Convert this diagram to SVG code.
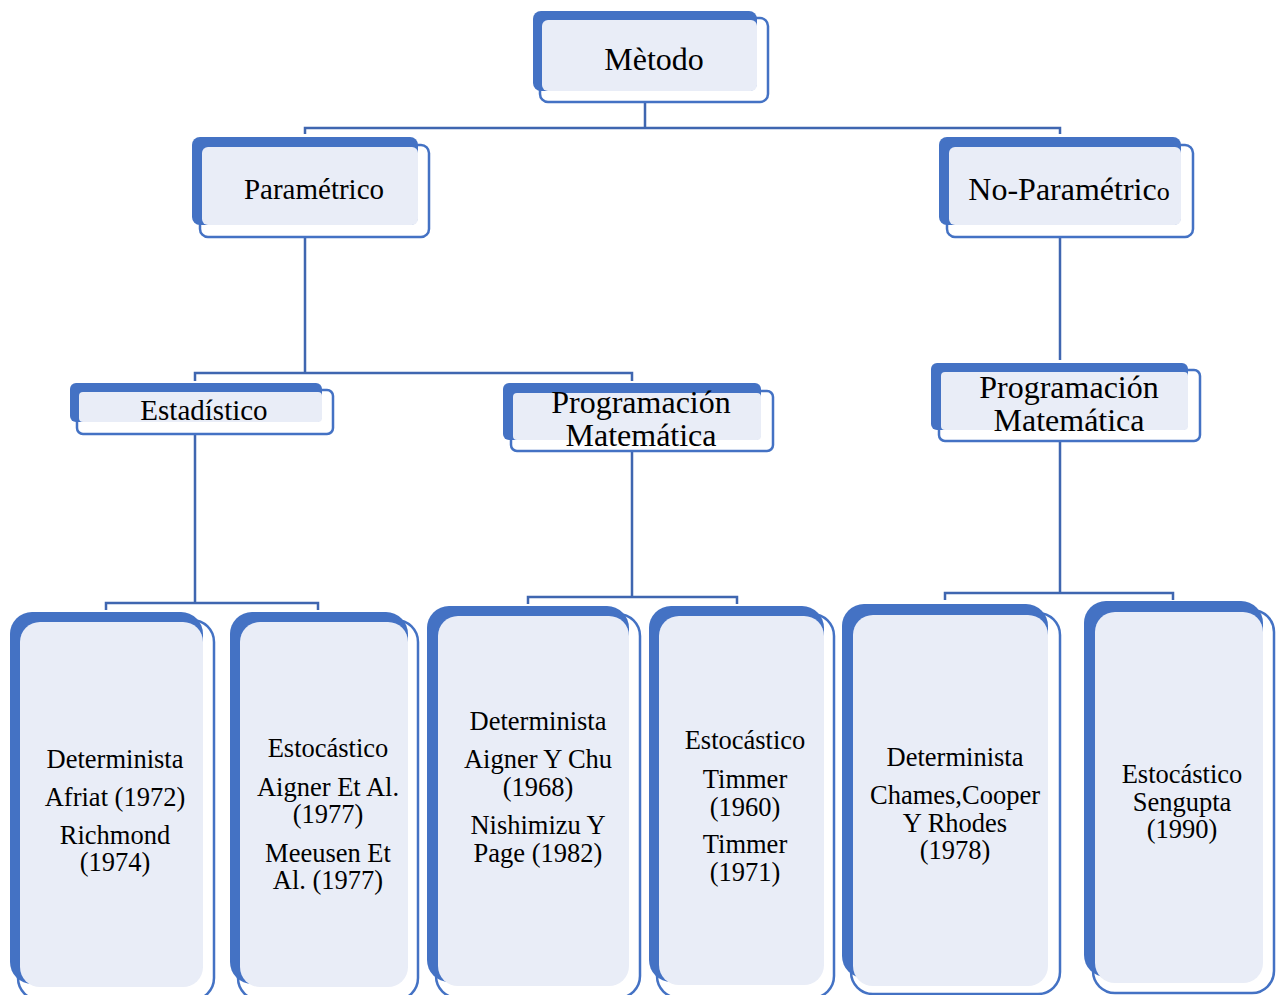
<svg xmlns="http://www.w3.org/2000/svg" width="1278" height="995" viewBox="0 0 1278 995">
<style>
.back{fill:#4472C4}
.out{fill:#ffffff;stroke:#4472C4;stroke-width:2.5}
.lt{fill:#E9EDF7}
.conn{fill:none;stroke:#3F66B0;stroke-width:2.5}
text{fill:#000;text-anchor:middle}
.t32{font-size:32px}
.t29{font-size:29px}
.t26{font-size:26.5px}
</style>
<rect width="1278" height="995" fill="#ffffff"/>
<g id="connectors">
<path class="conn" d="M645 102 V128 M305 134 V128 H1060 V134"/>
<path class="conn" d="M305 237 V373 M195 381 V373 H632 V381"/>
<path class="conn" d="M1060 237 V360"/>
<path class="conn" d="M195 434 V603 M106 610 V603 H318 V610"/>
<path class="conn" d="M632 451 V597 M528 604 V597 H737 V604"/>
<path class="conn" d="M1060 441 V593 M945 600 V593 H1173 V600"/>
</g>
<g font-family="'Liberation Serif', serif">
<g id="metodo">
<rect class="out" x="540" y="18" width="228" height="84" rx="8"/>
<rect class="back" x="533" y="11" width="224" height="80" rx="8"/>
<rect class="lt" x="542" y="20" width="215" height="71" rx="6"/>
<text class="t32" x="654" y="70">Mètodo</text>
</g>
<g id="parametrico">
<rect class="out" x="200" y="145" width="229" height="92" rx="8"/>
<rect class="back" x="192" y="137" width="226" height="88" rx="8"/>
<rect class="lt" x="202" y="147" width="216" height="78" rx="6"/>
<text class="t29" x="314" y="199">Paramétrico</text>
</g>
<g id="noparametrico">
<rect class="out" x="947" y="145" width="246" height="92" rx="8"/>
<rect class="back" x="939" y="137" width="242" height="88" rx="8"/>
<rect class="lt" x="949" y="147" width="232" height="78" rx="6"/>
<text class="t32" x="1069" y="200">No-Paramétric<tspan font-size="26px">o</tspan></text>
</g>
<g id="estadistico">
<rect class="out" x="77" y="390" width="256" height="44" rx="6"/>
<rect class="back" x="70" y="383" width="252" height="39" rx="6"/>
<rect class="lt" x="79" y="392" width="243" height="30" rx="4"/>
<text class="t29" x="204" y="420">Estadístico</text>
</g>
<g id="progmat1">
<rect class="out" x="511" y="391" width="262" height="60" rx="6"/>
<rect class="back" x="503" y="383" width="258" height="57" rx="6"/>
<rect class="lt" x="513" y="393" width="248" height="47" rx="4"/>
<text class="t32" x="641" y="413">Programación</text>
<text class="t32" x="641" y="446">Matemática</text>
</g>
<g id="progmat2">
<rect class="out" x="939" y="370" width="261" height="71" rx="6"/>
<rect class="back" x="931" y="363" width="257" height="67" rx="6"/>
<rect class="lt" x="941" y="372" width="247" height="58" rx="4"/>
<text class="t32" x="1069" y="398">Programación</text>
<text class="t32" x="1069" y="431">Matemática</text>
</g>
<g id="box1">
<rect class="out" x="18" y="620" width="196" height="380" rx="22"/>
<rect class="back" x="10" y="612" width="193" height="372" rx="22"/>
<rect class="lt" x="20" y="622" width="183" height="365" rx="20"/>
<text class="t26" x="115" y="768">Determinista</text>
<text class="t26" x="115" y="806">Afriat (1972)</text>
<text class="t26" x="115" y="844">Richmond</text>
<text class="t26" x="115" y="871">(1974)</text>
</g>
<g id="box2">
<rect class="out" x="238" y="620" width="180" height="380" rx="22"/>
<rect class="back" x="230" y="612" width="178" height="372" rx="22"/>
<rect class="lt" x="240" y="622" width="168" height="365" rx="20"/>
<text class="t26" x="328" y="757">Estocástico</text>
<text class="t26" x="328" y="796">Aigner Et Al.</text>
<text class="t26" x="328" y="823">(1977)</text>
<text class="t26" x="328" y="862">Meeusen Et</text>
<text class="t26" x="328" y="889">Al. (1977)</text>
</g>
<g id="box3">
<rect class="out" x="436" y="614" width="204" height="384" rx="22"/>
<rect class="back" x="427" y="606" width="202" height="376" rx="22"/>
<rect class="lt" x="438" y="616" width="191" height="370" rx="20"/>
<text class="t26" x="538" y="730">Determinista</text>
<text class="t26" x="538" y="768">Aigner Y Chu</text>
<text class="t26" x="538" y="796">(1968)</text>
<text class="t26" x="538" y="834">Nishimizu Y</text>
<text class="t26" x="538" y="862">Page (1982)</text>
</g>
<g id="box4">
<rect class="out" x="657" y="614" width="177" height="384" rx="22"/>
<rect class="back" x="649" y="606" width="175" height="376" rx="22"/>
<rect class="lt" x="659" y="616" width="165" height="369" rx="20"/>
<text class="t26" x="745" y="749">Estocástico</text>
<text class="t26" x="745" y="788">Timmer</text>
<text class="t26" x="745" y="816">(1960)</text>
<text class="t26" x="745" y="853">Timmer</text>
<text class="t26" x="745" y="881">(1971)</text>
</g>
<g id="box5">
<rect class="out" x="851" y="613" width="209" height="381" rx="22"/>
<rect class="back" x="842" y="604" width="206" height="374" rx="22"/>
<rect class="lt" x="853" y="615" width="195" height="371" rx="20"/>
<text class="t26" x="955" y="766">Determinista</text>
<text class="t26" x="955" y="804">Chames,Cooper</text>
<text class="t26" x="955" y="832">Y Rhodes</text>
<text class="t26" x="955" y="859">(1978)</text>
</g>
<g id="box6">
<rect class="out" x="1093" y="610" width="181" height="383" rx="22"/>
<rect class="back" x="1084" y="601" width="179" height="376" rx="22"/>
<rect class="lt" x="1095" y="612" width="168" height="371" rx="20"/>
<text class="t26" x="1182" y="783">Estocástico</text>
<text class="t26" x="1182" y="811">Sengupta</text>
<text class="t26" x="1182" y="838">(1990)</text>
</g>
</g>
</svg>
